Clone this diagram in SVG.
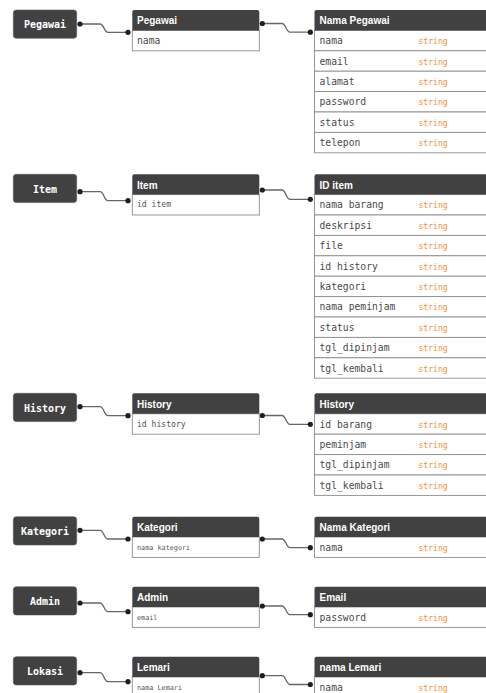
<svg xmlns="http://www.w3.org/2000/svg" width="486" height="693" viewBox="0 0 486 693">
<style>
.bg{fill:#ffffff}
.node{fill:#414141;stroke:#5a5a5a;stroke-width:0.6}
.nt{font-family:"DejaVu Sans Mono","Liberation Mono",monospace;font-weight:bold;font-size:10px;fill:#ffffff;text-anchor:middle}
.hd{fill:#414141}
.ht{font-family:"Liberation Sans","Noto Sans",sans-serif;font-weight:bold;font-size:10px;fill:#ffffff}
.row{fill:#ffffff;stroke:#8c8c8c;stroke-width:0.9}
.rt{font-family:"DejaVu Sans Mono","Liberation Mono",monospace;font-size:9.7px;fill:#4a4a4a}
.st{font-family:"DejaVu Sans Mono","Liberation Mono",monospace;font-size:8.1px;fill:#f39234}
.sm{font-family:"DejaVu Sans Mono","Liberation Mono",monospace;font-size:8.1px;fill:#555555}
.xs{font-family:"DejaVu Sans Mono","Liberation Mono",monospace;font-size:6.8px;fill:#555555}
.ln{fill:none;stroke:#666666;stroke-width:1.3}
.dot{fill:#1e1e1e}
</style>
<rect class="bg" x="0" y="0" width="486" height="693"/>

<g id="connectors">
<path class="ln" d="M80,24 H100 C104,24 104,32.3 108,32.3 H128"/>
<path class="ln" d="M262.3,23.5 H282 C286,23.5 286,32.2 290,32.2 H310.3"/>
<path class="ln" d="M80,191.7 H100 C104,191.7 104,200.7 108,200.7 H128"/>
<path class="ln" d="M262.3,190 H282 C286,190 286,199.3 290,199.3 H310.3"/>
<path class="ln" d="M80,406.7 H100 C104,406.7 104,415.7 108,415.7 H128"/>
<path class="ln" d="M262.3,415.5 H282 C286,415.5 286,424.3 290,424.3 H310.3"/>
<path class="ln" d="M80,530.3 H100 C104,530.3 104,539 108,539 H128"/>
<path class="ln" d="M262.3,539 H282 C286,539 286,547.7 290,547.7 H310.3"/>
<path class="ln" d="M80,603 H100 C104,603 104,611.7 108,611.7 H128"/>
<path class="ln" d="M262.3,606 H282 C286,606 286,614.7 290,614.7 H310.3"/>
<path class="ln" d="M80,672.7 H100 C104,672.7 104,681.7 108,681.7 H128"/>
<path class="ln" d="M262.3,675.7 H282 C286,675.7 286,684.5 290,684.5 H310.3"/>
<g class="dot">
<circle cx="80" cy="24" r="2.6"/><circle cx="128" cy="32.3" r="2.6"/>
<circle cx="262.3" cy="23.5" r="2.6"/><circle cx="310.3" cy="32.2" r="2.6"/>
<circle cx="80" cy="191.7" r="2.6"/><circle cx="128" cy="200.7" r="2.6"/>
<circle cx="262.3" cy="190" r="2.6"/><circle cx="310.3" cy="199.3" r="2.6"/>
<circle cx="80" cy="406.7" r="2.6"/><circle cx="128" cy="415.7" r="2.6"/>
<circle cx="262.3" cy="415.5" r="2.6"/><circle cx="310.3" cy="424.3" r="2.6"/>
<circle cx="80" cy="530.3" r="2.6"/><circle cx="128" cy="539" r="2.6"/>
<circle cx="262.3" cy="539" r="2.6"/><circle cx="310.3" cy="547.7" r="2.6"/>
<circle cx="80" cy="603" r="2.6"/><circle cx="128" cy="611.7" r="2.6"/>
<circle cx="262.3" cy="606" r="2.6"/><circle cx="310.3" cy="614.7" r="2.6"/>
<circle cx="80" cy="672.7" r="2.6"/><circle cx="128" cy="681.7" r="2.6"/>
<circle cx="262.3" cy="675.7" r="2.6"/><circle cx="310.3" cy="684.5" r="2.6"/>
</g>
</g>

<!-- Pegawai -->
<g id="node-pegawai">
<rect class="node" x="13.3" y="10" width="63.4" height="28.3" rx="3"/>
<text class="nt" x="45" y="28.2">Pegawai</text>
</g>
<g id="table-pegawai">
<rect class="row" x="132.3" y="30.4" width="127" height="20.4"/>
<path class="hd" d="M132.3,30.4 V12 Q132.3,10 134.3,10 H257.3 Q259.3,10 259.3,12 V30.4 Z"/>
<text class="ht" x="137" y="24.3">Pegawai</text>
<text class="rt" x="137" y="44.2">nama</text>
</g>
<g id="table-nama-pegawai">
<rect class="row" x="314.5" y="30.4" width="180" height="20.4"/>
<rect class="row" x="314.5" y="50.8" width="180" height="20.4"/>
<rect class="row" x="314.5" y="71.2" width="180" height="20.4"/>
<rect class="row" x="314.5" y="91.6" width="180" height="20.4"/>
<rect class="row" x="314.5" y="112" width="180" height="20.4"/>
<rect class="row" x="314.5" y="132.4" width="180" height="20.4"/>
<path class="hd" d="M314.5,30.4 V12 Q314.5,10 316.5,10 H494.5 V30.4 Z"/>
<text class="ht" x="319.5" y="24.3">Nama Pegawai</text>
<text class="rt" x="319.5" y="44.2">nama</text><text class="st" x="418.5" y="44.2">string</text>
<text class="rt" x="319.5" y="64.6">email</text><text class="st" x="418.5" y="64.6">string</text>
<text class="rt" x="319.5" y="85">alamat</text><text class="st" x="418.5" y="85">string</text>
<text class="rt" x="319.5" y="105.4">password</text><text class="st" x="418.5" y="105.4">string</text>
<text class="rt" x="319.5" y="125.8">status</text><text class="st" x="418.5" y="125.8">string</text>
<text class="rt" x="319.5" y="146.2">telepon</text><text class="st" x="418.5" y="146.2">string</text>
</g>

<!-- Item -->
<g id="node-item">
<rect class="node" x="13.3" y="174.3" width="63.4" height="28.3" rx="3"/>
<text class="nt" x="45" y="192.5">Item</text>
</g>
<g id="table-item">
<rect class="row" x="132.3" y="194.6" width="127" height="20.4"/>
<path class="hd" d="M132.3,194.6 V176.3 Q132.3,174.3 134.3,174.3 H257.3 Q259.3,174.3 259.3,176.3 V194.6 Z"/>
<text class="ht" x="137" y="188.6">Item</text>
<text class="sm" x="137" y="207.4">id item</text>
</g>
<g id="table-id-item">
<rect class="row" x="314.5" y="194.6" width="180" height="20.4"/>
<rect class="row" x="314.5" y="215" width="180" height="20.4"/>
<rect class="row" x="314.5" y="235.4" width="180" height="20.4"/>
<rect class="row" x="314.5" y="255.8" width="180" height="20.4"/>
<rect class="row" x="314.5" y="276.2" width="180" height="20.4"/>
<rect class="row" x="314.5" y="296.6" width="180" height="20.4"/>
<rect class="row" x="314.5" y="317" width="180" height="20.4"/>
<rect class="row" x="314.5" y="337.4" width="180" height="20.4"/>
<rect class="row" x="314.5" y="357.8" width="180" height="20.4"/>
<path class="hd" d="M314.5,194.6 V176.3 Q314.5,174.3 316.5,174.3 H494.5 V194.6 Z"/>
<text class="ht" x="319.5" y="188.6">ID item</text>
<text class="rt" x="319.5" y="208.4">nama barang</text><text class="st" x="418.5" y="208.4">string</text>
<text class="rt" x="319.5" y="228.8">deskripsi</text><text class="st" x="418.5" y="228.8">string</text>
<text class="rt" x="319.5" y="249.2">file</text><text class="st" x="418.5" y="249.2">string</text>
<text class="rt" x="319.5" y="269.6">id history</text><text class="st" x="418.5" y="269.6">string</text>
<text class="rt" x="319.5" y="290">kategori</text><text class="st" x="418.5" y="290">string</text>
<text class="rt" x="319.5" y="310.4">nama peminjam</text><text class="st" x="418.5" y="310.4">string</text>
<text class="rt" x="319.5" y="330.8">status</text><text class="st" x="418.5" y="330.8">string</text>
<text class="rt" x="319.5" y="351.2">tgl_dipinjam</text><text class="st" x="418.5" y="351.2">string</text>
<text class="rt" x="319.5" y="371.6">tgl_kembali</text><text class="st" x="418.5" y="371.6">string</text>
</g>

<!-- History -->
<g id="node-history">
<rect class="node" x="13.3" y="393.3" width="63.4" height="28.3" rx="3"/>
<text class="nt" x="45" y="411.5">History</text>
</g>
<g id="table-history">
<rect class="row" x="132.3" y="413.8" width="127" height="20.4"/>
<path class="hd" d="M132.3,413.8 V395.3 Q132.3,393.3 134.3,393.3 H257.3 Q259.3,393.3 259.3,395.3 V413.8 Z"/>
<text class="ht" x="137" y="407.6">History</text>
<text class="sm" x="137" y="426.6">id history</text>
</g>
<g id="table-history-fields">
<rect class="row" x="314.5" y="413.8" width="180" height="20.4"/>
<rect class="row" x="314.5" y="434.2" width="180" height="20.4"/>
<rect class="row" x="314.5" y="454.6" width="180" height="20.4"/>
<rect class="row" x="314.5" y="475" width="180" height="20.4"/>
<path class="hd" d="M314.5,413.8 V395.3 Q314.5,393.3 316.5,393.3 H494.5 V413.8 Z"/>
<text class="ht" x="319.5" y="407.6">History</text>
<text class="rt" x="319.5" y="427.6">id barang</text><text class="st" x="418.5" y="427.6">string</text>
<text class="rt" x="319.5" y="448">peminjam</text><text class="st" x="418.5" y="448">string</text>
<text class="rt" x="319.5" y="468.4">tgl_dipinjam</text><text class="st" x="418.5" y="468.4">string</text>
<text class="rt" x="319.5" y="488.8">tgl_kembali</text><text class="st" x="418.5" y="488.8">string</text>
</g>

<!-- Kategori -->
<g id="node-kategori">
<rect class="node" x="13.3" y="516.7" width="63.4" height="28.3" rx="3"/>
<text class="nt" x="45" y="534.9">Kategori</text>
</g>
<g id="table-kategori">
<rect class="row" x="132.3" y="537" width="127" height="20.4"/>
<path class="hd" d="M132.3,537 V518.7 Q132.3,516.7 134.3,516.7 H257.3 Q259.3,516.7 259.3,518.7 V537 Z"/>
<text class="ht" x="137" y="531">Kategori</text>
<text class="xs" x="137" y="549.6">nama kategori</text>
</g>
<g id="table-nama-kategori">
<rect class="row" x="314.5" y="537" width="180" height="20.4"/>
<path class="hd" d="M314.5,537 V518.7 Q314.5,516.7 316.5,516.7 H494.5 V537 Z"/>
<text class="ht" x="319.5" y="531">Nama Kategori</text>
<text class="rt" x="319.5" y="550.8">nama</text><text class="st" x="418.5" y="550.8">string</text>
</g>

<!-- Admin -->
<g id="node-admin">
<rect class="node" x="13.3" y="586.7" width="63.4" height="28.3" rx="3"/>
<text class="nt" x="45" y="604.9">Admin</text>
</g>
<g id="table-admin">
<rect class="row" x="132.3" y="607" width="127" height="20.4"/>
<path class="hd" d="M132.3,607 V588.7 Q132.3,586.7 134.3,586.7 H257.3 Q259.3,586.7 259.3,588.7 V607 Z"/>
<text class="ht" x="137" y="601">Admin</text>
<text class="xs" x="137" y="619.6">email</text>
</g>
<g id="table-email">
<rect class="row" x="314.5" y="607" width="180" height="20.4"/>
<path class="hd" d="M314.5,607 V588.7 Q314.5,586.7 316.5,586.7 H494.5 V607 Z"/>
<text class="ht" x="319.5" y="601">Email</text>
<text class="rt" x="319.5" y="620.8">password</text><text class="st" x="418.5" y="620.8">string</text>
</g>

<!-- Lokasi -->
<g id="node-lokasi">
<rect class="node" x="13.3" y="656.7" width="63.4" height="28.3" rx="3"/>
<text class="nt" x="45" y="674.9">Lokasi</text>
</g>
<g id="table-lemari">
<rect class="row" x="132.3" y="677" width="127" height="20.4"/>
<path class="hd" d="M132.3,677 V658.7 Q132.3,656.7 134.3,656.7 H257.3 Q259.3,656.7 259.3,658.7 V677 Z"/>
<text class="ht" x="137" y="671">Lemari</text>
<text class="xs" x="137" y="689.6">nama Lemari</text>
</g>
<g id="table-nama-lemari">
<rect class="row" x="314.5" y="677" width="180" height="20.4"/>
<path class="hd" d="M314.5,677 V658.7 Q314.5,656.7 316.5,656.7 H494.5 V677 Z"/>
<text class="ht" x="319.5" y="671">nama Lemari</text>
<text class="rt" x="319.5" y="690.8">nama</text><text class="st" x="418.5" y="690.8">string</text>
</g>
</svg>
